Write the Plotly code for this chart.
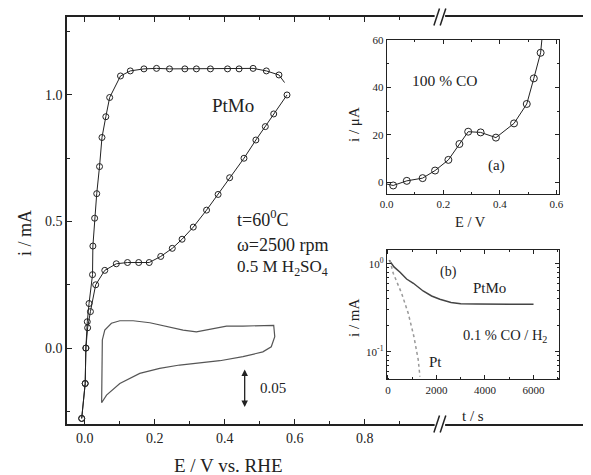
import plotly.graph_objects as go

# ---------------- data (main panel) ----------------
h2_E = [-0.009, 0.001, 0.003, 0.007, 0.012, 0.022, 0.023, 0.028, 0.034, 0.042, 0.049, 0.060, 0.071,
        0.102, 0.130, 0.169, 0.205, 0.242, 0.286, 0.319, 0.359, 0.408, 0.441, 0.481, 0.519, 0.555]
h2_i = [-0.278, -0.14, 0.0, 0.104, 0.176, 0.290, 0.403, 0.513, 0.610, 0.717, 0.832, 0.914, 0.990,
        1.075, 1.095, 1.103, 1.105, 1.103, 1.103, 1.103, 1.103, 1.103, 1.103, 1.105, 1.095, 1.079]
h2_tail_E = [0.555, 0.571]
h2_tail_i = [1.079, 1.049]

co_E = [-0.009, 0.001, 0.003, 0.008, 0.016, 0.031, 0.057, 0.090, 0.122, 0.154, 0.184, 0.217, 0.250,
        0.278, 0.310, 0.348, 0.381, 0.414, 0.455, 0.489, 0.516, 0.540, 0.578]
co_i = [-0.278, -0.14, 0.0, 0.080, 0.144, 0.250, 0.307, 0.333, 0.338, 0.338, 0.338, 0.362, 0.394,
        0.430, 0.478, 0.545, 0.607, 0.673, 0.750, 0.822, 0.875, 0.925, 1.000]

cv_E = [0.048, 0.050, 0.057, 0.076, 0.100, 0.138, 0.186, 0.233, 0.281, 0.319, 0.357, 0.405, 0.452,
        0.500, 0.540, 0.543, 0.533, 0.509, 0.452, 0.386, 0.329, 0.271, 0.214, 0.157, 0.100, 0.062, 0.048]
cv_i = [-0.216, 0.032, 0.071, 0.098, 0.108, 0.108, 0.100, 0.087, 0.071, 0.064, 0.074, 0.087, 0.087,
        0.090, 0.090, 0.045, 0.005, -0.015, -0.034, -0.050, -0.058, -0.067, -0.080, -0.100, -0.140, -0.186, -0.216]

main_xticks = [0.0, 0.2, 0.4, 0.6, 0.8]
main_xticklabels = ["0.0", "0.2", "0.4", "0.6", "0.8"]
main_yticks = [0.0, 0.5, 1.0]
main_yticklabels = ["0.0", "0.5", "1.0"]

# ---------------- data (inset a) ----------------
a_E = [0.023, 0.071, 0.127, 0.171, 0.218, 0.257, 0.288, 0.332, 0.386, 0.450, 0.495, 0.520, 0.544]
a_i = [-1.4, 0.55, 1.7, 4.9, 9.4, 16.1, 21.3, 21.0, 18.8, 24.8, 33.0, 43.8, 54.6]
a_head_E = [0.0, 0.023]
a_head_i = [-0.8, -1.4]
a_tail_E = [0.544, 0.550]
a_tail_i = [54.6, 62.0]

# ---------------- data (inset b) ----------------
b_ptmo_t = [50, 250, 500, 770, 1050, 1450, 1800, 2140, 2600, 3000, 3650, 4500, 6000]
b_ptmo_i = [1.10, 0.92, 0.80, 0.67, 0.60, 0.49, 0.43, 0.395, 0.362, 0.35, 0.348, 0.345, 0.345]
b_pt_t = [80, 219, 565, 837, 1072, 1250, 1320]
b_pt_i = [1.10, 0.778, 0.461, 0.273, 0.148, 0.0805, 0.052]

FONT = "Liberation Serif"
INK = "#222222"

fig = go.Figure()

# main panel
fig.add_trace(go.Scatter(x=cv_E, y=cv_i, mode="lines", line=dict(color="#555555", width=1.2),
                         xaxis="x", yaxis="y", showlegend=False))
fig.add_trace(go.Scatter(x=h2_tail_E, y=h2_tail_i, mode="lines", line=dict(color=INK, width=1),
                         xaxis="x", yaxis="y", showlegend=False))
fig.add_trace(go.Scatter(x=h2_E, y=h2_i, mode="lines+markers", line=dict(color=INK, width=1),
                         marker=dict(symbol="circle-open", size=6, color=INK, line=dict(width=1)),
                         xaxis="x", yaxis="y", showlegend=False))
fig.add_trace(go.Scatter(x=co_E, y=co_i, mode="lines+markers", line=dict(color=INK, width=1),
                         marker=dict(symbol="circle-open", size=6, color=INK, line=dict(width=1)),
                         xaxis="x", yaxis="y", showlegend=False))

# inset a
fig.add_trace(go.Scatter(x=a_head_E, y=a_head_i, mode="lines", line=dict(color=INK, width=1),
                         xaxis="x2", yaxis="y2", showlegend=False))
fig.add_trace(go.Scatter(x=a_tail_E, y=a_tail_i, mode="lines", line=dict(color=INK, width=1),
                         xaxis="x2", yaxis="y2", showlegend=False))
fig.add_trace(go.Scatter(x=a_E, y=a_i, mode="lines+markers", line=dict(color=INK, width=1),
                         marker=dict(symbol="circle-open", size=7, color=INK, line=dict(width=1)),
                         xaxis="x2", yaxis="y2", showlegend=False))

# inset b
fig.add_trace(go.Scatter(x=b_ptmo_t, y=b_ptmo_i, mode="lines", line=dict(color="#444444", width=1.5),
                         xaxis="x3", yaxis="y3", showlegend=False))
fig.add_trace(go.Scatter(x=b_pt_t, y=b_pt_i, mode="lines", line=dict(color="#999999", width=1.5, dash="dot"),
                         xaxis="x3", yaxis="y3", showlegend=False))

W, H = 591, 475
OFF = 8  # page body margin offset of the plot div
def px(xp):
    return (xp - OFF) / W
def py(yp):
    return 1 - (yp - OFF) / H

axis_common = dict(showgrid=False, zeroline=False, showline=True, linecolor=INK,
                   ticks="inside", tickcolor=INK, automargin=False)

fig.update_layout(
    width=W, height=H, margin=dict(l=0, r=0, t=0, b=0, autoexpand=False),
    paper_bgcolor="white", plot_bgcolor="white",
    font=dict(family=FONT, color=INK),
    xaxis=dict(axis_common, domain=[px(67), 1.0], range=[-0.051, 1.47], linewidth=1.5,
               mirror="ticks", tickvals=main_xticks, ticktext=main_xticklabels, ticklen=5,
               tickfont=dict(size=14), minor=dict(tickvals=[0.1, 0.3, 0.5, 0.7, 0.9], ticklen=3,
                                                  ticks="inside", tickcolor=INK), anchor="y"),
    yaxis=dict(axis_common, domain=[py(424), py(17)], range=[-0.30, 1.308], linewidth=1.5,
               tickvals=main_yticks, ticktext=main_yticklabels, ticklen=5, tickfont=dict(size=14),
               minor=dict(tickvals=[-0.25, 0.25, 0.75, 1.25], ticklen=3, ticks="inside", tickcolor=INK),
               anchor="x"),
    xaxis2=dict(axis_common, domain=[px(386.7), px(559)], range=[0, 0.609], linewidth=1,
                mirror="ticks", tickvals=[0, 0.2, 0.4, 0.6], ticktext=["0.0", "0.2", "0.4", "0.6"],
                ticklen=4, tickfont=dict(size=11),
                minor=dict(tickvals=[0.1, 0.3, 0.5], ticklen=2, ticks="inside", tickcolor=INK), anchor="y2"),
    yaxis2=dict(axis_common, domain=[py(194), py(40)], range=[-5, 60], linewidth=1,
                mirror="ticks", tickvals=[0, 20, 40, 60], ticktext=["0", "20", "40", "60"],
                ticklen=4, tickfont=dict(size=11),
                minor=dict(tickvals=[10, 30, 50], ticklen=2, ticks="inside", tickcolor=INK), anchor="x2"),
    xaxis3=dict(axis_common, domain=[px(386.7), px(559)], range=[-50, 7050], linewidth=1,
                mirror="ticks", tickvals=[0, 2000, 4000, 6000], ticktext=["0", "2000", "4000", "6000"],
                ticklen=4, tickfont=dict(size=11),
                minor=dict(tickvals=[1000, 3000, 5000, 7000], ticklen=2, ticks="inside", tickcolor=INK),
                anchor="y3"),
    yaxis3=dict(axis_common, type="log", domain=[py(379.3), py(250)], range=[-1.314, 0.156], linewidth=1,
                mirror="ticks", tickvals=[0.1, 1], ticktext=["10<sup>-1</sup>", "10<sup>0</sup>"],
                ticklen=4, tickfont=dict(size=11),
                minor=dict(tickvals=[0.05, 0.06, 0.07, 0.08, 0.09, 0.2, 0.3, 0.4, 0.5, 0.6, 0.7, 0.8, 0.9],
                           ticklen=2, ticks="inside", tickcolor=INK), anchor="x3"),
)

ann = []
def txt(x, y, s, size, xref="x", yref="y", xanchor="center", angle=0):
    ann.append(dict(x=x, y=y, xref=xref, yref=yref, text=s, showarrow=False,
                    font=dict(size=size, family=FONT, color=INK), xanchor=xanchor,
                    yanchor="middle", textangle=angle))

# main texts
txt(0.424, 0.96, "PtMo", 19)
txt(0.43, 0.51, "t=60<sup>0</sup>C", 18, xanchor="left")
txt(0.43, 0.407, "ω=2500 rpm", 18, xanchor="left")
txt(0.43, 0.316, "0.5 M H<sub>2</sub>SO<sub>4</sub>", 17, xanchor="left")
txt(0.495, -0.158, "0.05", 15, xanchor="left")
txt(px(228), py(465), "E / V vs. RHE", 19, xref="paper", yref="paper")
txt(px(25), py(233), "i / mA", 18, xref="paper", yref="paper", angle=-90)

# inset a texts
txt(0.206, 42.8, "100 % CO", 15.5, xref="x2", yref="y2")
txt(0.389, 7, "(a)", 15, xref="x2", yref="y2")
txt(px(470), py(222), "E / V", 14.5, xref="paper", yref="paper")
txt(px(354), py(125), "i / μA", 15, xref="paper", yref="paper", angle=-90)

# inset b texts
txt(2500, -0.098, "(b)", 14, xref="x3", yref="y3")
txt(4200, -0.273, "PtMo", 15, xref="x3", yref="y3")
txt(4820, -0.82, "0.1 % CO / H<sub>2</sub>", 14.5, xref="x3", yref="y3")
txt(1980, -1.114, "Pt", 15, xref="x3", yref="y3")
txt(px(473), py(416), "t / s", 15, xref="paper", yref="paper")
txt(px(354), py(318), "i / mA", 15, xref="paper", yref="paper", angle=-90)

# scale arrow (double headed)
ann.append(dict(x=0.457, y=-0.233, ax=0.457, ay=-0.079, xref="x", yref="y", axref="x", ayref="y",
                text="", showarrow=True, arrowhead=2, arrowside="end+start", arrowsize=1,
                arrowwidth=1.3, arrowcolor=INK))
fig.update_layout(annotations=ann)

# axis break marks on main top and bottom axes
shapes = []
for yb in (py(17), py(424)):
    shapes.append(dict(type="rect", xref="x", yref="paper", x0=1.0, x1=1.03, y0=yb - 0.006, y1=yb + 0.006,
                       fillcolor="white", line=dict(width=0)))
    for dx in (0.0, 0.018):
        shapes.append(dict(type="line", xref="x", yref="paper", x0=0.998 + dx, x1=1.014 + dx,
                           y0=yb - 0.018, y1=yb + 0.018, line=dict(color=INK, width=1.5)))
fig.update_layout(shapes=shapes)

fig.write_html("out.html")
